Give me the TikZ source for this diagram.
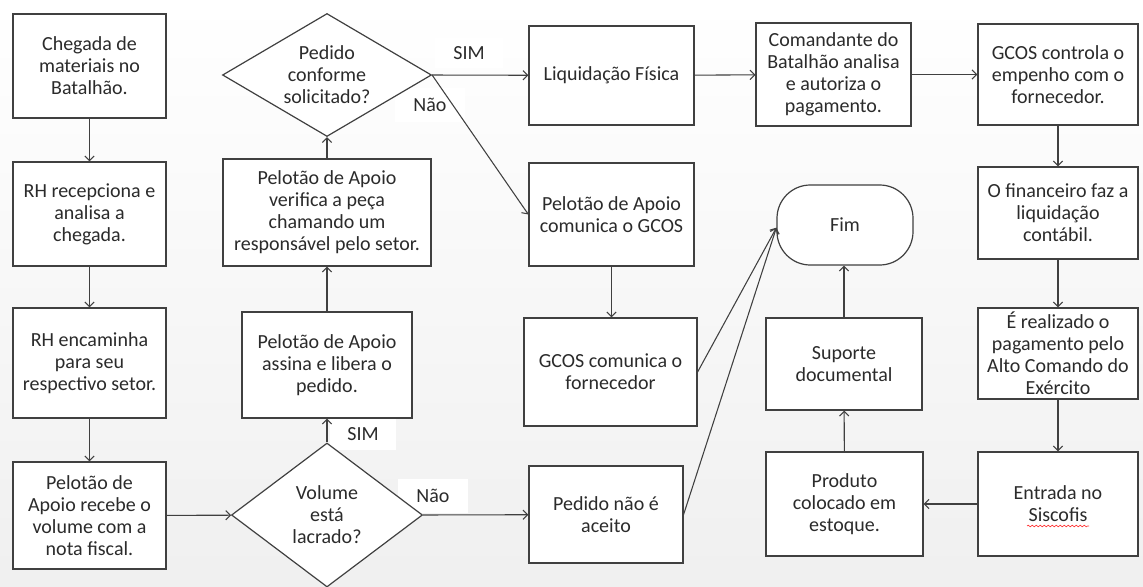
\documentclass[tikz,border=0pt]{standalone}
\usepackage{fontspec}
\setmainfont{Carlito}
\usetikzlibrary{arrows.meta,shapes.geometric,decorations.pathmorphing}
\definecolor{lc}{HTML}{404040}
\definecolor{tc}{HTML}{2b2b2b}
\tikzset{
  base/.style={draw=lc, line width=0.9pt, fill=white, text=tc, align=center, inner sep=1pt,
    font=\fontsize{15}{16.5}\selectfont},
  box/.style n args={2}{base, rectangle, minimum width={#1*0.75pt}, minimum height={#2*0.75pt}},
  dia/.style n args={3}{base, diamond, aspect=#3, minimum width={#1*0.75pt}, minimum height={#2*0.75pt}, inner sep=0pt},
  term/.style n args={2}{base, rectangle, rounded corners=25pt, minimum width={#1*0.75pt}, minimum height={#2*0.75pt}},
  lbl/.style={fill=white, text=tc, font=\fontsize{15}{16.5}\selectfont, inner sep=0pt},
  arr/.style={draw=lc, line width=0.8pt, -{Straight Barb[length=3.5pt,width=7pt]}},
}
\begin{document}
\begin{tikzpicture}[x=0.75pt,y=-0.75pt]
\shade[top color=white, bottom color=black!6] (0,0) rectangle (1143,586);
\useasboundingbox (0,0) rectangle (1143,586);
% labels (behind lines)
\node[lbl, minimum width=51pt, minimum height=23pt] (lsim1) at (469,53) {SIM};
\node[lbl, minimum width=52pt, minimum height=26pt] (lnao1) at (430,105) {Não};
\node[lbl, minimum width=50pt, minimum height=24pt] (lsim2) at (363,434) {SIM};
\node[lbl, minimum width=52pt, minimum height=26pt] (lnao2) at (433,496) {Não};
% column 1
\node[box={153}{104}] (b1) at (89.5,66) {Chegada de\\materiais no\\Batalhão.};
\node[box={153}{104}] (b2) at (89.5,214) {RH recepciona e\\analisa a\\chegada.};
\node[box={153}{110}] (b3) at (89.5,363) {RH encaminha\\para seu\\respectivo setor.};
\node[box={153}{107}] (b4) at (89.5,515.5) {Pelotão de\\Apoio recebe o\\volume com a\\nota fiscal.};
% column 2
\node[dia={209}{123}{1.7}] (d1) at (327,75) {Pedido\\conforme\\solicitado?};
\node[box={208}{107}] (ver) at (327,212.5) {Pelotão de Apoio\\verifica a peça\\chamando um\\responsável pelo setor.};
\node[box={170}{106}] (ass) at (327,365) {Pelotão de Apoio\\assina e libera o\\pedido.};
\node[dia={191}{144}{1.33}] (d2) at (327,515) {Volume\\está\\lacrado?};
% column 3
\node[box={165}{99}] (liq) at (611.5,75.5) {Liquidação Física};
\node[box={165}{103}] (com) at (611.5,214.5) {Pelotão de Apoio\\comunica o GCOS};
\node[box={173}{108}] (gcom) at (610.5,372) {GCOS comunica o\\fornecedor};
\node[box={154}{97}] (nao) at (606,514.5) {Pedido não é\\aceito};
% column 4
\node[box={155}{103}] (cmd) at (833.5,74.5) {Comandante do\\Batalhão analisa\\e autoriza o\\pagamento.};
\node[term={136}{80}] (fim) at (845,225) {Fim};
\node[box={156}{92}] (sup) at (844,364) {Suporte\\documental};
\node[box={157}{104}] (prod) at (844.5,504) {Produto\\colocado em\\estoque.};
% column 5
\node[box={160}{101}] (gctl) at (1058,74.5) {GCOS controla o\\empenho com o\\fornecedor.};
\node[box={160}{92}] (fin) at (1058,213) {O financeiro faz a\\liquidação\\contábil.};
\node[box={160}{91}] (real) at (1058,353.5) {É realizado o\\pagamento pelo\\Alto Comando do\\Exército};
\node[box={160}{104}] (ent) at (1058,504) {Entrada no\\Siscofis};
\coordinate (sq1) at (1027,526);
\coordinate (sq2) at (1089,526);
\draw[red!80, line width=0.5pt, decorate, decoration={snake, amplitude=0.6pt, segment length=3pt}] (sq1) -- (sq2);
% arrows
\draw[arr] (b1) -- (b2);
\draw[arr] (b2) -- (b3);
\draw[arr] (b3) -- (b4);
\draw[arr] (b4) -- (d2);
\draw[arr] (d2) -- (ass);
\draw[arr] (ass) -- (ver);
\draw[arr] (ver) -- (d1);
\draw[arr] (d1.east) -- (liq);
\draw[arr] (d1.east) -- (com.west);
\draw[arr] (d2.east) -- (nao);
\draw[arr] (liq) -- (cmd);
\draw[arr] (cmd) -- (gctl);
\draw[arr] (com) -- (com|-gcom.north);
\draw[arr] (gctl) -- (fin);
\draw[arr] (fin) -- (real);
\draw[arr] (real) -- (ent);
\draw[arr] (ent) -- (prod);
\draw[arr] (prod) -- (sup);
\draw[arr] (sup) -- (sup|-fim.south);
\draw[arr] (gcom.east) -- ([yshift=-2pt]fim.west);
\draw[arr] (nao.east) -- ([yshift=-2pt]fim.west);
\end{tikzpicture}
\end{document}
